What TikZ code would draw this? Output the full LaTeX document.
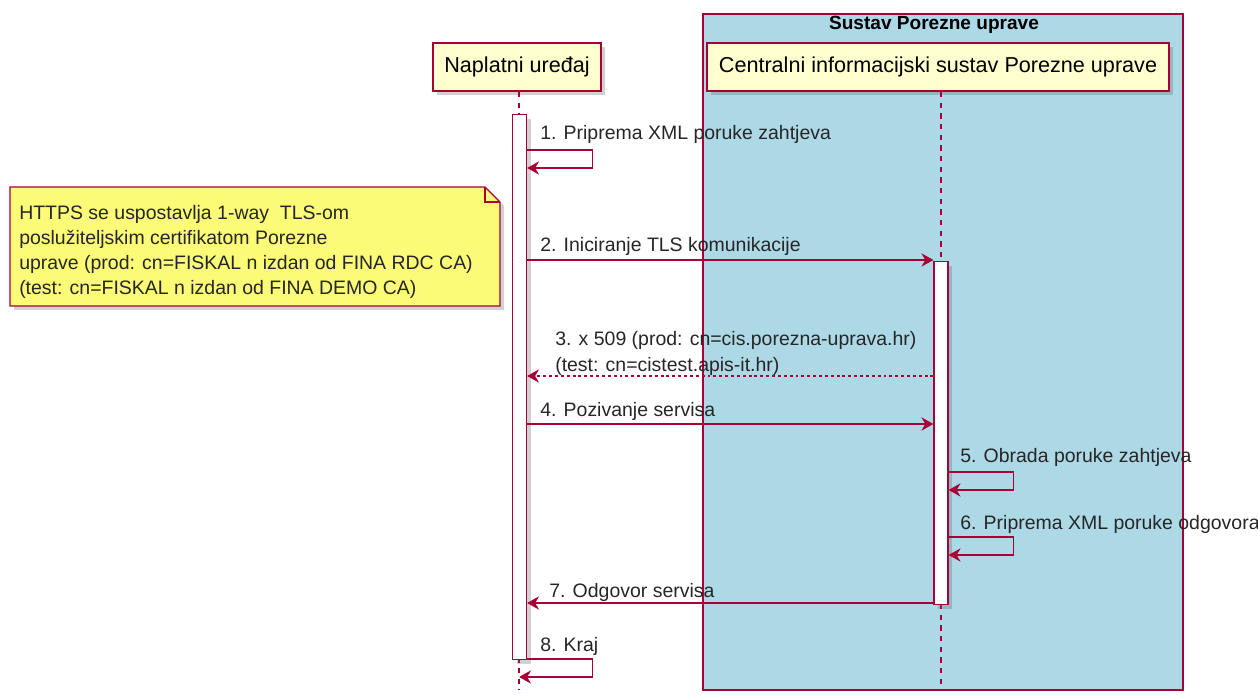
\documentclass[tikz,border=0pt]{standalone}
\usepackage{fontspec}
\setmainfont{Liberation Sans}
\usetikzlibrary{arrows.meta,shadows,positioning}

\definecolor{umlred}{HTML}{A80036}
\definecolor{partfill}{HTML}{FEFECE}
\definecolor{notefill}{HTML}{FBFB77}
\definecolor{grpfill}{HTML}{ADD8E6}

\begin{document}
\begin{tikzpicture}[
    x=0.75pt, y=-0.75pt,
    font=\fontsize{14.6}{18.75}\selectfont,
    every node/.style={inner sep=0pt},
    shade/.style={drop shadow={shadow xshift=3pt, shadow yshift=-3pt, opacity=0.3, fill=black!60}},
    party/.style={rectangle, draw=umlred, line width=1.3pt, fill=partfill, minimum height=36pt,
                  font=\fontsize{16.2}{19}\selectfont, shade},
    bar/.style={rectangle, draw=umlred, line width=0.9pt, fill=white, minimum width=10.5pt, anchor=north, shade},
    life/.style={draw=umlred, line width=0.8pt, dash pattern=on 4pt off 4pt},
    msg/.style={draw=umlred, line width=0.8pt, -{Stealth[length=9pt, width=10pt, inset=3pt]}},
    reply/.style={msg, dash pattern=on 2.2pt off 2.2pt},
    lbl/.style={anchor=base west, text=black!85}
]

\useasboundingbox (0,0) rectangle (1258,695);

% Group
\node[rectangle, draw=umlred, line width=1.2pt, fill=grpfill, anchor=north west,
      minimum width=360pt, minimum height=507pt] (grp) at (702,13) {};
\node[anchor=base, font=\fontsize{14.3}{17}\selectfont\bfseries] (grptitle) at (934,30) {Sustav Porezne uprave};

% Participants
\node[party, minimum width=126pt] (dev) at (517,67) {Naplatni uređaj};
\node[party, minimum width=346.5pt] (cis) at (938,67) {Centralni informacijski sustav Porezne uprave};

% Lifelines
\coordinate (bottom) at (0,690);
\draw[life] (dev.south -| 519,0) -- (519,690);
\draw[life] (cis.south -| 941,0) -- (941,690);

% Activations
\node[bar, minimum height=408.75pt] (barA) at (519.5,114) {};
\node[bar, minimum height=257.25pt] (barB) at (941,261) {};

% Rows of the messages
\foreach \n/\y in {1/150, 2/260, 3/376, 4/424, 5/472, 6/537, 7/603, 8/659}
    \coordinate (r\n) at (0,\y);

% Note
\draw[draw=umlred, line width=0.9pt, fill=notefill, shade]
    (10,187) -- (485,187) -- (500,202) -- (500,306) -- (10,306) -- cycle;
\draw[draw=umlred, line width=0.9pt] (485,187) -- (485,202) -- (500,202);
\node[anchor=north west, align=left, text=black!85] (note) at (19,205)
    {HTTPS se uspostavlja 1-way~ TLS-om\\
     poslužiteljskim certifikatom Porezne\\
     uprave (prod: cn=FISKAL n izdan od FINA RDC CA)\\
     (test: cn=FISKAL n izdan od FINA DEMO CA)};

% Messages
\draw[msg] (barA.east |- r1) -- ++(65,0) -- ++(0,18) -- ++(-65,0);
\node[lbl] (l1) at (540,140) {1. Priprema XML poruke zahtjeva};

\draw[msg] (barA.east |- r2) -- (barB.west |- r2);
\node[lbl] (l2) at (540,252) {2. Iniciranje TLS komunikacije};

\draw[reply] (barB.west |- r3) -- (barA.east |- r3);
\node[lbl] (l3a) at (555,346) {3. x 509 (prod: cn=cis.porezna-uprava.hr)};
\node[lbl] (l3b) at (555,372) {(test: cn=cistest.apis-it.hr)};

\draw[msg] (barA.east |- r4) -- (barB.west |- r4);
\node[lbl] (l4) at (540,417) {4. Pozivanje servisa};

\draw[msg] (barB.east |- r5) -- ++(65,0) -- ++(0,18) -- ++(-65,0);
\node[lbl] (l5) at (960,463) {5. Obrada poruke zahtjeva};

\draw[msg] (barB.east |- r6) -- ++(65,0) -- ++(0,18) -- ++(-65,0);
\node[lbl] (l6) at (960,530) {6. Priprema XML poruke odgovora};

\draw[msg] (barB.west |- r7) -- (barA.east |- r7);
\node[lbl] (l7) at (549,597) {7. Odgovor servisa};

\draw[msg] (barA.east |- r8) -- ++(65,0) -- ++(0,18) -- ++(-73,0);
\node[lbl] (l8) at (540,651) {8. Kraj};

\end{tikzpicture}
\end{document}
